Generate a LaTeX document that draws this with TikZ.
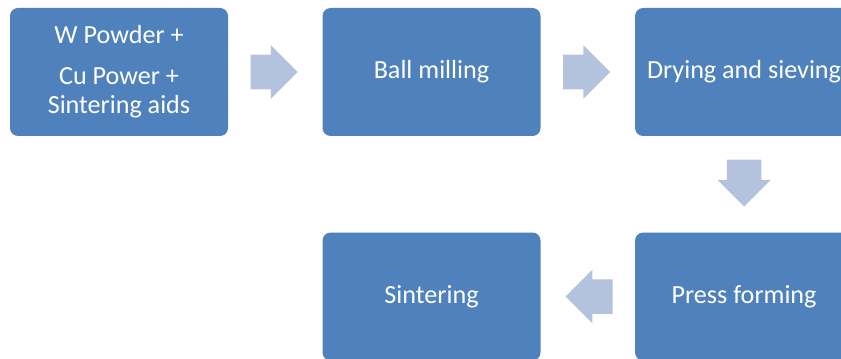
\documentclass[tikz,border=0pt]{standalone}
\usepackage{fontspec}
\setmainfont{Carlito}
\usepackage{xcolor}
\usetikzlibrary{
    shapes.arrows,
    positioning,
    calc
}
\definecolor{boxblue}{HTML}{4F81BD}
\definecolor{arrowblue}{HTML}{B3C3DE}

\begin{document}
\begin{tikzpicture}[
        procbox/.style={fill=boxblue, rounded corners=6pt, minimum width=163.5pt, minimum height=96pt,
            inner sep=0pt, text=white, align=center, font=\fontsize{19.6}{21.75}\selectfont},
        flowarrow/.style={single arrow, fill=arrowblue, minimum height=35.25pt, minimum width=0pt,
            inner xsep=0pt, inner ysep=12.75pt, single arrow head extend=7.125pt}
    ]
        \useasboundingbox (0,0) rectangle (630.75pt,-269.25pt);

        % Top row
        \node[procbox] (powder) at (89.25pt,-54pt) {W Powder +\\[9pt]Cu Power +\\Sintering aids};
        \node[procbox, right=70.5pt of powder] (milling) {Ball milling};
        \node[procbox, right=70.5pt of milling] (drying) {Drying and sieving};

        % Bottom row
        \node[procbox, below=72pt of drying] (pressing) {Press forming};
        \node[procbox, left=70.5pt of pressing] (sintering) {Sintering};

        % Block arrows
        \node[flowarrow, right=16.5pt of powder] (arr1) {};
        \node[flowarrow, right=16.5pt of milling] (arr2) {};
        \node[flowarrow, rotate=-90, anchor=west] (arr3) at ($(drying.south)+(0,-17.25pt)$) {};
        \node[flowarrow, shape border rotate=180, left=16.5pt of pressing] (arr4) {};
    \end{tikzpicture}
\end{document}
